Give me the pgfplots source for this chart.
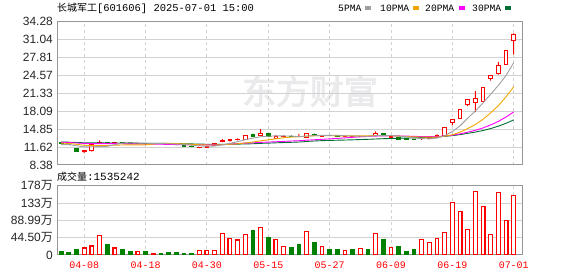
\documentclass[border=0pt]{standalone}
\usepackage{fontspec}
\setmainfont{Liberation Sans}
\newfontfamily\cjk{Noto Sans CJK SC}
\newfontfamily\cjkb[FakeBold=2.5]{Noto Sans CJK SC}
\newfontfamily\mono{Liberation Mono}
\usepackage{pgfplots}
\usepackage{pgfplotstable}
\pgfplotsset{compat=1.18}

\definecolor{kred}{RGB}{255,0,0}
\definecolor{kgreen}{RGB}{0,128,0}
\definecolor{ma5c}{RGB}{160,160,160}
\definecolor{ma10c}{RGB}{240,165,0}
\definecolor{ma20c}{RGB}{255,0,255}
\definecolor{ma30c}{RGB}{0,110,50}
\definecolor{gridc}{RGB}{210,210,210}
\definecolor{framec}{RGB}{150,150,150}
\definecolor{wmark}{RGB}{234,234,236}

% rising days: index, open, high, low, close
\pgfplotstableread{
i o h l c
3 10.75 11.00 10.50 10.95
4 10.95 12.10 10.80 12.05
5 12.45 12.80 12.30 12.50
7 12.35 12.55 12.30 12.45
10 12.20 12.35 12.15 12.30
12 12.20 12.30 12.15 12.25
18 11.50 11.60 11.40 11.55
19 11.60 11.80 11.55 11.80
20 11.98 12.22 11.95 12.20
21 12.60 13.05 12.50 12.85
22 12.75 13.05 12.60 13.00
23 12.90 13.20 12.80 13.05
24 12.95 13.70 12.90 13.65
26 13.75 14.85 13.70 14.05
28 13.15 13.75 13.10 13.45
29 13.45 13.70 13.35 13.55
31 13.48 14.00 13.40 13.50
32 13.40 14.05 13.35 14.00
34 13.60 13.80 13.55 13.75
37 13.50 13.60 13.45 13.55
38 13.48 13.65 13.45 13.50
39 13.50 13.65 13.45 13.60
41 13.70 14.45 13.65 14.10
43 13.40 13.60 13.35 13.55
47 13.15 13.55 12.90 13.20
48 13.20 13.40 13.10 13.30
49 13.40 13.90 13.30 13.75
50 13.70 15.15 13.65 15.15
51 16.00 16.67 15.50 16.67
52 16.80 18.34 16.70 18.34
53 19.20 20.17 19.00 20.17
54 19.60 21.70 17.90 20.30
55 19.90 22.33 19.80 22.33
56 24.00 24.56 23.60 24.56
57 24.85 26.95 24.65 26.35
58 26.53 28.99 26.50 28.99
59 30.75 32.10 28.30 31.89
}\redc

% falling days: index, open, high, low, close
\pgfplotstableread{
i o h l c
0 12.45 12.55 12.25 12.30
1 12.20 12.30 12.00 12.10
2 11.35 11.40 10.89 10.89
6 12.50 12.55 12.30 12.35
8 12.45 12.50 12.30 12.35
9 12.35 12.40 12.10 12.20
11 12.30 12.35 12.15 12.20
13 12.25 12.30 12.15 12.20
14 12.20 12.25 12.05 12.10
15 12.10 12.15 11.95 12.00
16 11.90 11.95 11.75 11.80
17 11.80 11.85 11.60 11.65
25 13.80 14.05 13.55 13.60
27 14.00 14.05 13.40 13.45
30 13.60 13.70 13.40 13.50
33 13.95 14.05 13.70 13.75
35 13.75 13.80 13.60 13.65
36 13.65 13.70 13.50 13.55
40 13.60 13.65 13.50 13.55
42 14.00 14.05 13.65 13.70
44 13.25 13.30 13.00 13.05
45 13.10 13.15 12.90 12.95
46 13.05 13.10 12.90 12.95
}\greenc

\pgfplotstableread{
i ma5 ma10 ma20 ma30
0 12.06 12.33 12.47 12.51
1 12.06 12.28 12.44 12.49
2 11.84 12.11 12.35 12.44
3 11.65 11.94 12.27 12.38
4 11.66 11.89 12.24 12.36
5 11.70 11.88 12.24 12.36
6 11.75 11.90 12.23 12.35
7 12.06 11.95 12.22 12.35
8 12.34 11.99 12.21 12.34
9 12.37 12.01 12.19 12.32
10 12.33 12.01 12.17 12.31
11 12.30 12.02 12.15 12.30
12 12.26 12.16 12.13 12.29
13 12.23 12.29 12.12 12.28
14 12.21 12.29 12.09 12.26
15 12.15 12.24 12.06 12.24
16 12.07 12.19 12.04 12.21
17 11.95 12.11 12.03 12.18
18 11.82 12.03 12.01 12.15
19 11.76 11.99 12.00 12.12
20 11.80 11.98 12.00 12.11
21 12.01 12.04 12.03 12.11
22 12.28 12.12 12.14 12.13
23 12.58 12.20 12.24 12.14
24 12.95 12.36 12.32 12.18
25 13.23 12.52 12.38 12.21
26 13.47 12.74 12.46 12.28
27 13.56 12.92 12.51 12.32
28 13.64 13.11 12.57 12.38
29 13.62 13.29 12.64 12.43
30 13.60 13.42 12.70 12.47
31 13.49 13.48 12.76 12.52
32 13.60 13.58 12.85 12.62
33 13.66 13.65 12.93 12.71
34 13.70 13.66 13.01 12.77
35 13.73 13.67 13.09 12.81
36 13.74 13.62 13.18 12.85
37 13.65 13.63 13.27 12.88
38 13.60 13.63 13.37 12.92
39 13.57 13.64 13.46 12.97
40 13.55 13.64 13.53 13.01
41 13.66 13.70 13.59 13.07
42 13.69 13.67 13.63 13.12
43 13.70 13.65 13.65 13.17
44 13.59 13.58 13.62 13.20
45 13.47 13.51 13.59 13.23
46 13.24 13.45 13.53 13.27
47 13.14 13.42 13.52 13.32
48 13.09 13.40 13.51 13.38
49 13.23 13.41 13.52 13.44
50 13.67 13.57 13.61 13.54
51 14.41 13.83 13.76 13.67
52 15.44 14.29 13.98 13.85
53 16.82 14.95 14.30 14.08
54 18.13 15.68 14.63 14.31
55 19.56 16.62 15.06 14.60
56 21.14 17.78 15.61 14.95
57 22.74 19.09 16.25 15.38
58 24.51 20.66 17.03 15.90
59 26.82 22.48 17.94 16.51
}\mas

% volume in units of 10k shares
\pgfplotstableread{
i v
3 18
4 23
5 49
7 18
10 10
12 5
18 12
19 12
20 12
21 56
22 43
23 38.5
24 53
26 71
28 40
29 22
32 61
34 22
37 12
39 17
41 56
43 20
47 40
48 33
49 43
50 58
51 135
52 112
53 66
54 164
55 125
56 53
57 161
58 89
59 153.5
}\volred

\pgfplotstableread{
i v
0 8.5
1 6
2 13
6 26
8 13
9 10
11 8.5
13 5
14 7.5
15 7.5
16 5
17 5
25 62
27 46
30 20
31 28
33 31
35 15
36 13
38 15
40 13
42 39
44 23
45 10
46 13
}\volgreen

\pgfplotsset{
  kbase/.style={
    scale only axis,
    anchor=south west,
    width=465bp,
    xmin=-0.55, xmax=60.08,
    axis line style={framec, line width=1bp},
    major tick length=0pt,
    tick style={draw=none},
    xmajorgrids, ymajorgrids,
    x grid style={gridc, line width=1bp, dash pattern=on 3bp off 3bp},
    y grid style={gridc, line width=1bp},
    xtick={3,11,19,27,35,43,51,59},
    yticklabel style={font=\fontsize{12}{12}\selectfont, text=black!85, anchor=east, inner sep=0pt, xshift=-4bp},
  },
  koverlay/.style={
    scale only axis,
    anchor=south west,
    width=465bp, height=143.7bp,
    at={(57bp,111bp)},
    xmin=-0.55, xmax=60.08,
    ymin=8.38, ymax=34.28,
    hide axis,
  },
}

\begin{document}
\begin{tikzpicture}
\useasboundingbox (0,0) rectangle (578bp,276bp);
% watermark
\node[text=wmark, font=\cjkb\fontsize{34}{34}\selectfont] at (310bp,185bp) {东方财富};

% ---------- price panel: frame, grid, labels ----------
\begin{axis}[kbase,
  at={(57bp,111bp)},
  height=143.7bp,
  ymin=8.38, ymax=34.28,
  ytick={8.38,11.62,14.85,18.09,21.33,24.57,27.81,31.04,34.28},
  yticklabels={8.38,11.62,14.85,18.09,21.33,24.57,27.81,31.04,34.28},
  xticklabels={},
]
\addplot[draw=none] coordinates {(0,10)};
\end{axis}

% rising candles: stacked low -> lower shadow -> body -> upper shadow
\begin{axis}[koverlay, ybar stacked, bar shift=0pt]
\addplot[draw=none, fill=none, bar width=0.56] table[x=i, y=l] {\redc};
\addplot[draw=none, fill=kred, bar width=1bp] table[x=i, y expr=\thisrow{o}-\thisrow{l}] {\redc};
\addplot[draw=kred, fill=white, line width=1bp, bar width=0.5] table[x=i, y expr=\thisrow{c}-\thisrow{o}] {\redc};
\addplot[draw=none, fill=kred, bar width=1bp] table[x=i, y expr=\thisrow{h}-\thisrow{c}] {\redc};
\end{axis}

% falling candles
\begin{axis}[koverlay, ybar stacked, bar shift=0pt]
\addplot[draw=none, fill=none, bar width=0.56] table[x=i, y=l] {\greenc};
\addplot[draw=none, fill=kgreen, bar width=1bp] table[x=i, y expr=\thisrow{c}-\thisrow{l}] {\greenc};
\addplot[draw=kgreen, fill=kgreen, line width=1bp, bar width=0.5] table[x=i, y expr=\thisrow{o}-\thisrow{c}] {\greenc};
\addplot[draw=none, fill=kgreen, bar width=1bp] table[x=i, y expr=\thisrow{h}-\thisrow{o}] {\greenc};
\end{axis}

% moving averages
\begin{axis}[koverlay]
\addplot[ma30c, line width=0.9bp] table[x=i, y=ma30] {\mas};
\addplot[ma20c, line width=0.9bp] table[x=i, y=ma20] {\mas};
\addplot[ma10c, line width=0.9bp] table[x=i, y=ma10] {\mas};
\addplot[ma5c, line width=0.9bp] table[x=i, y=ma5] {\mas};
\end{axis}

% ---------- volume panel ----------
\begin{axis}[kbase,
  at={(57bp,21bp)},
  height=69.3bp,
  ymin=0, ymax=178,
  ytick={0,44.5,88.99,133,178},
  yticklabels={0,44.50{\cjk 万},88.99{\cjk 万},133{\cjk 万},178{\cjk 万}},
  xticklabels={04-08,04-18,04-30,05-15,05-27,06-09,06-19,07-01},
  xticklabel style={font=\mono\fontsize{10}{10}\selectfont, text=kred, anchor=center, inner sep=0pt, yshift=-10.5bp},
  ybar, bar width=0.5, bar shift=0pt,
]
\addplot[draw=kred, fill=white, line width=1.1bp] table[x=i, y=v] {\volred};
\addplot[draw=kgreen, fill=kgreen, line width=1bp] table[x=i, y=v] {\volgreen};
\end{axis}

% ---------- titles and legend ----------
\node[anchor=west, inner sep=0pt] at (57bp,267.5bp)
  {{\cjk\fontsize{10}{10}\selectfont 长城军工}{\mono\fontsize{10.5}{10.5}\selectfont[601606] 2025-07-01 15:00}};
\node[anchor=west, inner sep=0pt] at (57bp,99.3bp)
  {{\cjk\fontsize{10}{10}\selectfont 成交量}{\mono\fontsize{11}{11}\selectfont:1535242}};

\node[anchor=west, inner sep=0pt, font=\mono\fontsize{9.7}{9.7}\selectfont] at (338bp,267.5bp) {5PMA};
\fill[ma5c] (365bp,265.5bp) rectangle (371bp,269.5bp);
\node[anchor=west, inner sep=0pt, font=\mono\fontsize{9.7}{9.7}\selectfont] at (380bp,267.5bp) {10PMA};
\fill[ma10c] (413bp,265.5bp) rectangle (419bp,269.5bp);
\node[anchor=west, inner sep=0pt, font=\mono\fontsize{9.7}{9.7}\selectfont] at (425bp,267.5bp) {20PMA};
\fill[ma20c] (459bp,265.5bp) rectangle (465bp,269.5bp);
\node[anchor=west, inner sep=0pt, font=\mono\fontsize{9.7}{9.7}\selectfont] at (472bp,267.5bp) {30PMA};
\fill[ma30c] (505bp,265.5bp) rectangle (511bp,269.5bp);
\end{tikzpicture}
\end{document}
